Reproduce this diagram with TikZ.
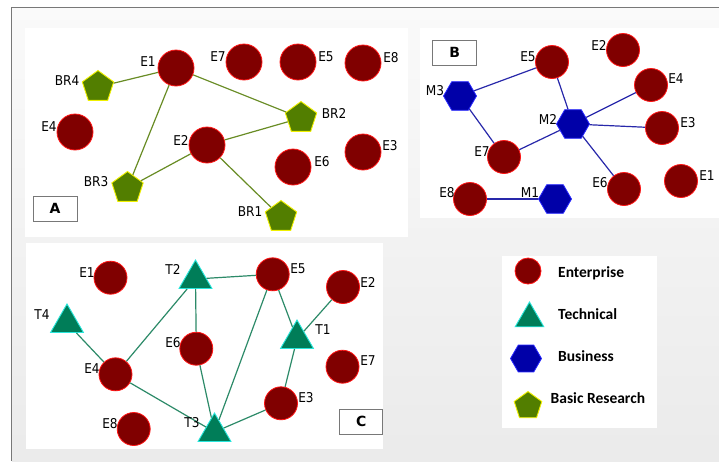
\documentclass[tikz,border=0pt]{standalone}
\usepackage{fontspec}
\usetikzlibrary{shapes.geometric}
\newfontfamily\lblfont{DejaVu Sans Condensed}
\newfontfamily\boxfont{DejaVu Sans}
\newfontfamily\legfont{Carlito}
\definecolor{entfill}{RGB}{128,0,0}
\definecolor{entline}{RGB}{255,20,20}
\definecolor{brfill}{RGB}{82,126,0}
\definecolor{brline}{RGB}{240,240,0}
\definecolor{busfill}{RGB}{0,0,168}
\definecolor{busline}{RGB}{40,40,255}
\definecolor{tecfill}{RGB}{0,125,88}
\definecolor{tecline}{RGB}{40,230,220}
\definecolor{edgeA}{RGB}{104,140,36}
\definecolor{edgeB}{RGB}{40,40,170}
\definecolor{edgeC}{RGB}{44,138,104}
\definecolor{framegray}{RGB}{120,120,120}
\tikzset{
  x=1pt,y=-1pt,
  ent/.style={circle,fill=entfill,draw=entline,line width=0.8pt,minimum size=#1,inner sep=0pt},
  ent/.default=36pt,
  brnode/.style={regular polygon,regular polygon sides=5,fill=brfill,draw=brline,line width=0.9pt,minimum size=#1,inner sep=0pt},
  brnode/.default=33pt,
  busnode/.style={regular polygon,regular polygon sides=6,fill=busfill,draw=busline,line width=0.8pt,minimum size=#1,inner sep=0pt},
  busnode/.default=33pt,
  tecnode/.style={regular polygon,regular polygon sides=3,fill=tecfill,draw=tecline,line width=0.9pt,minimum size=#1,inner sep=0pt},
  tecnode/.default=38pt,
  lbl/.style={font=\lblfont\fontsize{13.5}{14}\selectfont,inner sep=0pt},
  boxlbl/.style={draw=framegray,fill=white,line width=0.8pt,font=\boxfont\bfseries\fontsize{14}{16}\selectfont,inner sep=0pt},
  leglbl/.style={font=\legfont\bfseries\fontsize{15.5}{17}\selectfont,inner sep=0pt,anchor=west},
  ea/.style={draw=edgeA,line width=1.2pt},
  eb/.style={draw=edgeB,line width=1.2pt},
  ec/.style={draw=edgeC,line width=1.2pt},
  panel/.style={fill=white,draw=none}
}
\begin{document}
\begin{tikzpicture}
\useasboundingbox (0,0) rectangle (719,461);
\fill[white] (0,0) rectangle (719,461);
\shade[top color=white!98!black,bottom color=white!92!black] (12,8) rectangle (719,461);
\draw[framegray,line width=1.5pt] (11.5,461) -- (11.5,7.5) -- (719,7.5);
% panels
\fill[panel] (25,28) rectangle (408,237);
\fill[panel] (420,28) rectangle (719,218);
\fill[panel] (26,243) rectangle (383,449);
\fill[panel] (502,256) rectangle (657,428);

% ---------- Panel A ----------
\node[ent] (aE1) at (176,68) {};
\node[ent] (aE7) at (244,62) {};
\node[ent] (aE5) at (298,62) {};
\node[ent] (aE8) at (363,63) {};
\node[ent] (aE4) at (75,132) {};
\node[ent] (aE2) at (207,145) {};
\node[ent] (aE6) at (293,167) {};
\node[ent] (aE3) at (363,152) {};
\node[brnode] (aBR4) at (98,87) {};
\node[brnode] (aBR2) at (301,118) {};
\node[brnode] (aBR3) at (127.5,188) {};
\node[brnode] (aBR1) at (281,217) {};
\draw[ea] (aBR4) -- (aE1);
\draw[ea] (aE1) -- (aBR2);
\draw[ea] (aE1) -- (aBR3);
\draw[ea] (aE2) -- (aBR2);
\draw[ea] (aE2) -- (aBR3);
\draw[ea] (aE2) -- (aBR1);
\node[lbl] (laE1) at (148,62) {E1};
\node[lbl] (laE7) at (218,57) {E7};
\node[lbl] (laE5) at (326,57) {E5};
\node[lbl] (laE8) at (391,58) {E8};
\node[lbl] (laBR4) at (67,81) {BR4};
\node[lbl] (laE4) at (49,127) {E4};
\node[lbl] (laBR2) at (334,113) {BR2};
\node[lbl] (laE2) at (181,140) {E2};
\node[lbl] (laE6) at (322,162) {E6};
\node[lbl] (laE3) at (390,146) {E3};
\node[lbl] (laBR3) at (96,182) {BR3};
\node[lbl] (laBR1) at (250,212) {BR1};
\node[boxlbl,minimum width=44pt,minimum height=25pt] (boxA) at (55,208.5) {A};

% ---------- Panel B ----------
\node[boxlbl,minimum width=44pt,minimum height=25pt] (boxB) at (454.7,52.5) {B};
\node[ent=33pt] (bE5) at (552,62) {};
\node[ent=33pt] (bE2) at (623,50) {};
\node[ent=33pt] (bE4) at (651,85) {};
\node[ent=33pt] (bE3) at (662,128) {};
\node[ent=33pt] (bE7) at (504,157) {};
\node[ent=33pt] (bE6) at (624,189) {};
\node[ent=33pt] (bE1) at (681,181) {};
\node[ent=33pt] (bE8) at (470,199) {};
\node[busnode] (bM3) at (460,96) {};
\node[busnode] (bM2) at (573,124) {};
\node[busnode] (bM1) at (555,199) {};
\draw[eb] (bM3) -- (bE5);
\draw[eb] (bM3) -- (bE7);
\draw[eb] (bE5) -- (bM2);
\draw[eb] (bM2) -- (bE4);
\draw[eb] (bM2) -- (bE3);
\draw[eb] (bM2) -- (bE7);
\draw[eb] (bM2) -- (bE6);
\draw[eb] (bE8) -- (bM1);
\node[lbl] (lbE5) at (528,57) {E5};
\node[lbl] (lbE2) at (599,45) {E2};
\node[lbl] (lbE4) at (676,79) {E4};
\node[lbl] (lbM3) at (435,91) {M3};
\node[lbl] (lbM2) at (548,119) {M2};
\node[lbl] (lbE3) at (688,123) {E3};
\node[lbl] (lbE7) at (482,152) {E7};
\node[lbl] (lbE6) at (600,183) {E6};
\node[lbl] (lbE1) at (707,176) {E1};
\node[lbl] (lbE8) at (447,193) {E8};
\node[lbl] (lbM1) at (530,193) {M1};

% ---------- Panel C ----------
\node[ent=33pt] (cE1) at (110.5,277.7) {};
\node[ent=33pt] (cE5) at (272.7,274.3) {};
\node[ent=33pt] (cE2) at (343,287) {};
\node[ent=33pt] (cE6) at (196.3,348.7) {};
\node[ent=33pt] (cE4) at (115.5,374.3) {};
\node[ent=33pt] (cE7) at (342.5,366.7) {};
\node[ent=33pt] (cE3) at (281,403.3) {};
\node[ent=33pt] (cE8) at (133.7,429) {};
\node[tecnode] (cT2) at (195.5,279) {};
\node[tecnode] (cT4) at (67,323) {};
\node[tecnode] (cT1) at (297,339) {};
\node[tecnode] (cT3) at (214.5,432) {};
\draw[ec] (cT2) -- (cE5);
\draw[ec] (cT2) -- (cE4);
\draw[ec] (cT2) -- (cE6);
\draw[ec] (cT4) -- (cE4);
\draw[ec] (cE4) -- (cT3);
\draw[ec] (cE6) -- (cT3);
\draw[ec] (cE5) -- (cT3);
\draw[ec] (cE5) -- (cT1);
\draw[ec] (cE2) -- (cT1);
\draw[ec] (cT1) -- (cE3);
\draw[ec] (cE3) -- (cT3);
\node[lbl] (lcE1) at (87,273) {E1};
\node[lbl] (lcT2) at (173,269) {T2};
\node[lbl] (lcE5) at (298,269) {E5};
\node[lbl] (lcE2) at (368,282) {E2};
\node[lbl] (lcT4) at (42,315) {T4};
\node[lbl] (lcT1) at (323,330) {T1};
\node[lbl] (lcE6) at (173,343) {E6};
\node[lbl] (lcE4) at (92,369) {E4};
\node[lbl] (lcE7) at (368,361) {E7};
\node[lbl] (lcE3) at (306,398) {E3};
\node[lbl] (lcE8) at (110,424) {E8};
\node[lbl] (lcT3) at (192,423) {T3};
\node[boxlbl,minimum width=43pt,minimum height=25pt] (boxC) at (361.3,421.8) {C};

% ---------- Legend ----------
\node[ent=26pt] (gE) at (528,271) {};
\node[tecnode=33pt] (gT) at (529.5,318.5) {};
\node[busnode=31pt] (gB) at (526,358.5) {};
\node[brnode=29pt] (gR) at (528,406) {};
\node[leglbl] (tE) at (558,273) {Enterprise};
\node[leglbl] (tT) at (558,314) {Technical};
\node[leglbl] (tB) at (558,356) {Business};
\node[leglbl] (tR) at (550.5,398) {Basic Research};
\end{tikzpicture}
\end{document}
